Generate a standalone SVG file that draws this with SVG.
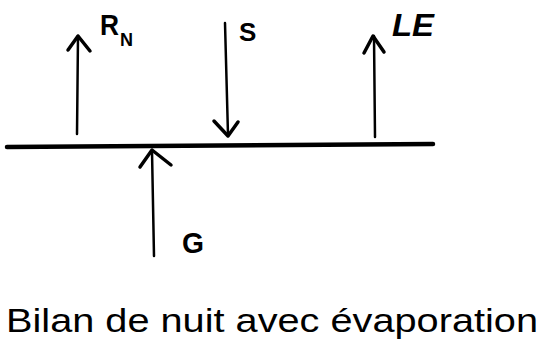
<svg xmlns="http://www.w3.org/2000/svg" width="545" height="354" viewBox="0 0 545 354">
<style>
.ln{stroke:#000;stroke-width:2.5;fill:none;stroke-linecap:round;stroke-linejoin:round}
.hd{stroke:#000;stroke-width:3.5;fill:none;stroke-linecap:round;stroke-linejoin:round}
.t{font-family:"Liberation Sans",sans-serif;fill:#000}
</style>
<rect width="545" height="354" fill="#fff"/>
<g id="surface"><path d="M7,147 L433,144" stroke="#000" stroke-width="4.5" stroke-linecap="round"/></g>
<g id="connectors">
<g id="RN-arrow"><path class="ln" d="M77,134 L78,36"/><path class="hd" d="M68,50 L78,36 L90,51"/></g>
<g id="S-arrow"><path class="ln" d="M225,23 L228,135"/><path class="hd" d="M214,121 L228,136 L238,122"/></g>
<g id="LE-arrow"><path class="ln" d="M375,137 L374,36"/><path class="hd" d="M364,53 L373,36 L384,52"/></g>
<g id="G-arrow"><path class="ln" d="M154,256 L152,151"/><path class="hd" d="M140,167 L152,150 L171,165"/></g>
</g>
<g id="RN"><text class="t" x="100" y="35" font-size="30" font-weight="bold" textLength="19" lengthAdjust="spacingAndGlyphs">R</text><text class="t" x="120" y="46" font-size="18" font-weight="bold">N</text></g>
<g id="S"><text class="t" x="239" y="41" font-size="26" font-weight="bold">S</text></g>
<g id="LE"><text class="t" x="392" y="36" font-size="32" font-weight="bold" font-style="italic" textLength="42" lengthAdjust="spacingAndGlyphs">LE</text></g>
<g id="G"><text class="t" x="182" y="253" font-size="30" font-weight="bold" textLength="22" lengthAdjust="spacingAndGlyphs">G</text></g>
<g id="caption"><text class="t" x="6" y="332" font-size="34" textLength="532" lengthAdjust="spacingAndGlyphs">Bilan de nuit avec évaporation</text></g>
</svg>
